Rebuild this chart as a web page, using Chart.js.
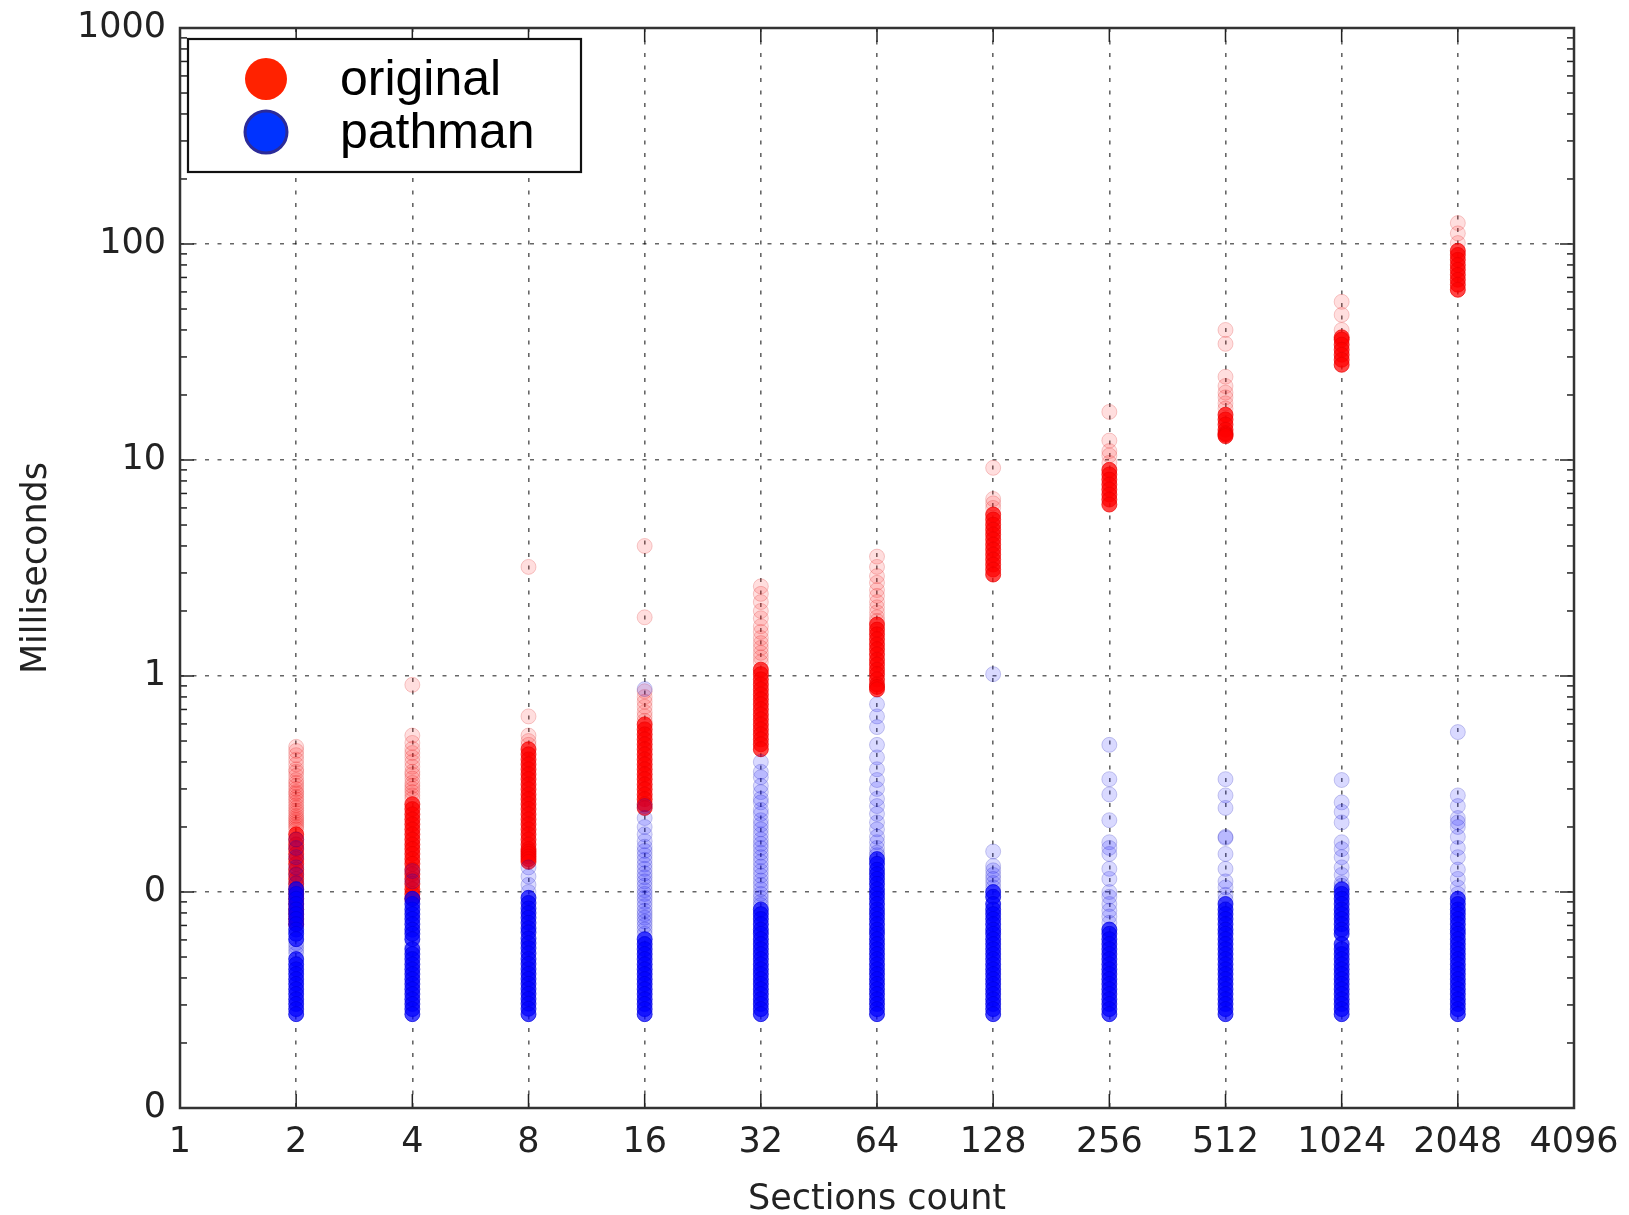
<!DOCTYPE html>
<html>
<head>
<meta charset="utf-8">
<script src="https://cdn.jsdelivr.net/npm/chart.js@4.4.0/dist/chart.umd.min.js"></script>
<style>
  html, body { margin: 0; padding: 0; background: #fff; }
  #wrap { width: 1629px; height: 1215px; }
</style>
</head>
<body>
<div id="wrap"><canvas id="timing-graph"></canvas></div>
<script>
const sections = [2, 4, 8, 16, 32, 64, 128, 256, 512, 1024, 2048];
const xTicks = [1, 2, 4, 8, 16, 32, 64, 128, 256, 512, 1024, 2048, 4096];
const yTicks = [0.01, 0.1, 1, 10, 100, 1000];
const yTickLabels = ['0', '0', '1', '10', '100', '1000'];
const seriesNames = ['original', 'pathman'];

// milliseconds, one list per sections count; "core" = the solid part of a column
const originalCore = [
    [0.185, 0.175, 0.166, 0.158, 0.150, 0.142, 0.135, 0.127, 0.121, 0.115, 0.109, 0.103, 0.098, 0.093, 0.088, 0.083, 0.079, 0.075, 0.071],
    [0.255, 0.242, 0.229, 0.217, 0.206, 0.195, 0.185, 0.175, 0.166, 0.158, 0.150, 0.142, 0.135, 0.127, 0.121, 0.115, 0.109, 0.103, 0.098, 0.093],
    [0.458, 0.434, 0.411, 0.390, 0.370, 0.351, 0.333, 0.315, 0.299, 0.283, 0.269, 0.255, 0.242, 0.229, 0.217, 0.206, 0.195, 0.185, 0.175, 0.166, 0.158, 0.154, 0.150, 0.146, 0.142, 0.138],
    [0.597, 0.566, 0.537, 0.509, 0.483, 0.458, 0.434, 0.411, 0.390, 0.370, 0.351, 0.333, 0.315, 0.299, 0.283, 0.269, 0.255, 0.245],
    [1.07, 1.02, 0.965, 0.914, 0.867, 0.822, 0.780, 0.740, 0.701, 0.664, 0.630, 0.597, 0.566, 0.537, 0.509, 0.483, 0.458],
    [1.73, 1.64, 1.56, 1.48, 1.40, 1.33, 1.26, 1.19, 1.13, 1.07, 1.02, 0.965, 0.914, 0.89, 0.867],
    [5.59, 5.30, 5.02, 4.76, 4.52, 4.29, 4.06, 3.85, 3.65, 3.46, 3.28, 3.11, 2.95],
    [9.0, 8.57, 8.12, 7.70, 7.30, 6.92, 6.56, 6.22],
    [16.2, 15.4, 14.6, 13.8, 13.3, 13.1, 12.9],
    [37.0, 36.1, 34.2, 32.4, 30.7, 29.1, 27.6],
    [93, 89, 84.5, 80, 76, 72, 68.3, 64.8, 61.4]
];
const originalSparse = [
    [0.47, 0.45, 0.43, 0.41, 0.39, 0.37, 0.36, 0.345, 0.33, 0.32, 0.31, 0.30, 0.29, 0.285, 0.275, 0.268, 0.26, 0.252, 0.245, 0.238, 0.232, 0.225, 0.22, 0.215, 0.21, 0.205, 0.20, 0.195],
    [0.91, 0.53, 0.49, 0.46, 0.44, 0.42, 0.40, 0.38, 0.36, 0.35, 0.335, 0.32, 0.31, 0.30, 0.29, 0.28, 0.27],
    [3.2, 0.65, 0.53, 0.50, 0.48],
    [4.0, 1.87, 0.85, 0.80, 0.76, 0.72, 0.68, 0.65, 0.62],
    [2.6, 2.4, 2.2, 2.0, 1.85, 1.7, 1.6, 1.5, 1.42, 1.35, 1.28, 1.22, 1.16],
    [3.57, 3.2, 2.9, 2.7, 2.5, 2.35, 2.2, 2.08, 1.97, 1.87, 1.8],
    [9.2, 6.6, 6.3, 6.0],
    [16.7, 12.3, 11.0, 10.5, 9.7],
    [40, 34.5, 24.3, 22, 20.5, 19.5, 18.3, 17.3],
    [54, 47, 40],
    [125, 112, 101]
];
const pathmanCore = [
    [0.103, 0.098, 0.093, 0.088, 0.083, 0.079, 0.075, 0.071, 0.067, 0.064, 0.0605, 0.0489, 0.0463, 0.0439, 0.0417, 0.0395, 0.0375, 0.0355, 0.0337, 0.0319, 0.0303, 0.0287, 0.0272],
    [0.093, 0.088, 0.083, 0.079, 0.075, 0.071, 0.067, 0.064, 0.0605, 0.0544, 0.0516, 0.0489, 0.0463, 0.0439, 0.0417, 0.0395, 0.0375, 0.0355, 0.0337, 0.0319, 0.0303, 0.0287, 0.0272],
    [0.094, 0.089, 0.084, 0.080, 0.076, 0.072, 0.068, 0.065, 0.061, 0.058, 0.055, 0.052, 0.049, 0.0465, 0.044, 0.0418, 0.0396, 0.0376, 0.0356, 0.0338, 0.032, 0.0304, 0.0288, 0.0272],
    [0.0605, 0.0574, 0.0544, 0.0516, 0.0489, 0.0463, 0.0439, 0.0417, 0.0395, 0.0375, 0.0355, 0.0337, 0.0319, 0.0303, 0.0287, 0.0272],
    [0.083, 0.079, 0.075, 0.071, 0.067, 0.064, 0.0605, 0.0574, 0.0544, 0.0516, 0.0489, 0.0463, 0.0439, 0.0417, 0.0395, 0.0375, 0.0355, 0.0337, 0.0319, 0.0303, 0.0287, 0.0272],
    [0.142, 0.135, 0.127, 0.121, 0.115, 0.109, 0.103, 0.098, 0.093, 0.088, 0.083, 0.079, 0.075, 0.071, 0.067, 0.064, 0.0605, 0.0574, 0.0544, 0.0516, 0.0489, 0.0463, 0.0439, 0.0417, 0.0395, 0.0375, 0.0355, 0.0337, 0.0319, 0.0303, 0.0287, 0.0272],
    [0.1, 0.095, 0.088, 0.083, 0.079, 0.075, 0.071, 0.067, 0.064, 0.0605, 0.0574, 0.0544, 0.0516, 0.0489, 0.0463, 0.0439, 0.0417, 0.0395, 0.0375, 0.0355, 0.0337, 0.0319, 0.0303, 0.0287, 0.0272],
    [0.067, 0.064, 0.0605, 0.0574, 0.0544, 0.0516, 0.0489, 0.0463, 0.0439, 0.0417, 0.0395, 0.0375, 0.0355, 0.0337, 0.0319, 0.0303, 0.0287, 0.0272],
    [0.088, 0.083, 0.079, 0.075, 0.071, 0.067, 0.064, 0.0605, 0.0574, 0.0544, 0.0516, 0.0489, 0.0463, 0.0439, 0.0417, 0.0395, 0.0375, 0.0355, 0.0337, 0.0319, 0.0303, 0.0287, 0.0272],
    [0.103, 0.098, 0.093, 0.088, 0.083, 0.079, 0.075, 0.071, 0.067, 0.064, 0.0574, 0.0544, 0.0516, 0.0489, 0.0463, 0.0439, 0.0417, 0.0395, 0.0375, 0.0355, 0.0337, 0.0319, 0.0303, 0.0287, 0.0272],
    [0.093, 0.088, 0.083, 0.079, 0.075, 0.071, 0.067, 0.064, 0.0605, 0.0574, 0.0544, 0.0516, 0.0489, 0.0463, 0.0439, 0.0417, 0.0395, 0.0375, 0.0355, 0.0337, 0.0319, 0.0303, 0.0287, 0.0272]
];
const pathmanSparse = [
    [0.175, 0.16, 0.145, 0.13, 0.12, 0.11, 0.058, 0.056, 0.054, 0.052],
    [0.125, 0.112, 0.057],
    [0.13, 0.118, 0.108, 0.10],
    [0.87, 0.25, 0.22, 0.20, 0.185, 0.172, 0.162, 0.155, 0.148, 0.141, 0.134, 0.128, 0.122, 0.117, 0.112, 0.107, 0.102, 0.098, 0.094, 0.09, 0.086, 0.082, 0.079, 0.076, 0.073, 0.070, 0.067, 0.064],
    [0.40, 0.36, 0.34, 0.31, 0.29, 0.27, 0.26, 0.24, 0.23, 0.215, 0.205, 0.195, 0.185, 0.175, 0.167, 0.16, 0.152, 0.145, 0.138, 0.131, 0.125, 0.119, 0.113, 0.108, 0.103, 0.098, 0.094, 0.09, 0.087],
    [0.74, 0.65, 0.58, 0.48, 0.42, 0.37, 0.33, 0.30, 0.27, 0.25, 0.23, 0.21, 0.195, 0.18, 0.17, 0.16, 0.152, 0.148],
    [1.02, 0.154, 0.132, 0.126, 0.12, 0.115, 0.11, 0.105],
    [0.48, 0.333, 0.283, 0.215, 0.17, 0.16, 0.15, 0.128, 0.115, 0.1, 0.095, 0.088, 0.082, 0.077, 0.072],
    [0.333, 0.28, 0.245, 0.18, 0.178, 0.15, 0.128, 0.112, 0.105, 0.097, 0.092],
    [0.33, 0.26, 0.235, 0.21, 0.17, 0.158, 0.145, 0.13, 0.12, 0.11, 0.107],
    [0.55, 0.28, 0.25, 0.22, 0.21, 0.2, 0.18, 0.16, 0.145, 0.127, 0.115, 0.105, 0.098]
];

const legendFill = ['#ff2200', '#0033ff'];
const legendEdge = [null, '#2b2b99'];

function pointsFor(lists) {
    return lists.flatMap((vals, i) => vals.map(v => ({x: sections[i], y: v})));
}

function line(ctx, x1, y1, x2, y2) {
    ctx.beginPath();
    ctx.moveTo(x1, y1);
    ctx.lineTo(x2, y2);
    ctx.stroke();
}

// inward ticks, frame and the legend box, drawn on top like matplotlib does
const frameAndLegend = {
    id: 'frameAndLegend',
    afterDraw(chart) {
        const {ctx, chartArea: {left, right, top, bottom}, scales: {x, y}} = chart;
        ctx.save();
        ctx.strokeStyle = '#222';
        ctx.lineWidth = 1.5;
        for (const d of [0.01, 0.1, 1, 10, 100]) {
            for (let k = 2; k < 10; k++) {
                const py = y.getPixelForValue(d * k);
                line(ctx, left, py, left + 7, py);
                line(ctx, right, py, right - 7, py);
            }
        }
        yTicks.forEach(v => {
            const py = y.getPixelForValue(v);
            line(ctx, left, py, left + 14, py);
            line(ctx, right, py, right - 14, py);
        });
        xTicks.forEach(v => {
            const px = x.getPixelForValue(v);
            line(ctx, px, bottom, px, bottom - 14);
            line(ctx, px, top, px, top + 14);
        });
        ctx.lineWidth = 2.5;
        ctx.strokeStyle = '#333';
        ctx.strokeRect(left, top, right - left, bottom - top);

        const lx = left + 8, ly = top + 11;
        ctx.fillStyle = '#fff';
        ctx.fillRect(lx, ly, 393, 133);
        ctx.lineWidth = 2.2;
        ctx.strokeStyle = '#111';
        ctx.strokeRect(lx, ly, 393, 133);
        seriesNames.forEach((name, i) => {
            const cy = ly + 40 + i * 53;
            ctx.beginPath();
            ctx.arc(lx + 78, cy, 21, 0, 2 * Math.PI);
            ctx.fillStyle = legendFill[i];
            ctx.fill();
            if (legendEdge[i]) {
                ctx.lineWidth = 3;
                ctx.strokeStyle = legendEdge[i];
                ctx.stroke();
            }
            ctx.fillStyle = '#000';
            ctx.font = '50px "Liberation Sans", Arial, sans-serif';
            ctx.textBaseline = 'alphabetic';
            ctx.fillText(name, lx + 152, cy + 16);
        });
        ctx.restore();
    }
};

Chart.defaults.font.family = '"DejaVu Sans", sans-serif';
Chart.defaults.font.size = 35;
Chart.defaults.color = '#222';

const ctx = document.getElementById('timing-graph').getContext('2d');

new Chart(ctx, {
    type: 'scatter',
    data: {
        datasets: [
            {
                label: seriesNames[0],
                data: pointsFor(originalCore),
                backgroundColor: 'rgba(255, 0, 0, 0.72)',
                borderColor: 'rgba(235, 0, 0, 0.72)',
                order: 2,
            },
            {
                label: seriesNames[0],
                data: pointsFor(originalSparse),
                backgroundColor: 'rgba(255, 0, 0, 0.13)',
                borderColor: 'rgba(210, 0, 0, 0.2)',
                order: 3,
            },
            {
                label: seriesNames[1],
                data: pointsFor(pathmanCore),
                backgroundColor: 'rgba(0, 0, 255, 0.72)',
                borderColor: 'rgba(0, 0, 220, 0.72)',
                order: 0,
            },
            {
                label: seriesNames[1],
                data: pointsFor(pathmanSparse),
                backgroundColor: 'rgba(0, 0, 255, 0.15)',
                borderColor: 'rgba(0, 0, 170, 0.2)',
                order: 1,
            }
        ]
    },
    options: {
        responsive: true,
        maintainAspectRatio: false,
        animation: false,
        events: [],
        elements: {
            point: {radius: 7.5, hoverRadius: 7.5, borderWidth: 1}
        },
        layout: {padding: {top: 28, right: 55, bottom: 0, left: 0}},
        plugins: {
            legend: {display: false},
            tooltip: {enabled: false}
        },
        scales: {
            x: {
                type: 'logarithmic',
                min: 1,
                max: 4096,
                afterBuildTicks: scale => { scale.ticks = xTicks.map(v => ({value: v})); },
                afterFit: scale => {
                    scale.height = 107;
                    scale.paddingLeft = 0;
                    scale.paddingRight = 0;
                },
                ticks: {
                    autoSkip: false,
                    maxRotation: 0,
                    padding: 14,
                    callback: (value, index) => String(xTicks[index])
                },
                grid: {color: 'rgba(0, 0, 0, 0.6)', lineWidth: 1.6, drawTicks: false},
                border: {display: false, dash: [4, 8.5]},
                title: {display: true, text: 'Sections count', padding: {top: 0, bottom: 0}, font: {size: 35, lineHeight: 0.86}}
            },
            y: {
                type: 'logarithmic',
                min: 0.01,
                max: 1000,
                afterBuildTicks: scale => { scale.ticks = yTicks.map(v => ({value: v})); },
                afterFit: scale => { scale.width = 180; },
                ticks: {
                    padding: 14,
                    font: {lineHeight: 0.6},
                    callback: (value, index) => yTickLabels[index]
                },
                grid: {color: 'rgba(0, 0, 0, 0.6)', lineWidth: 1.6, drawTicks: false},
                border: {display: false, dash: [4, 8.5]},
                title: {display: true, text: 'Milliseconds', padding: {top: 16, bottom: 0}, font: {size: 35, lineHeight: 1.2}}
            }
        }
    },
    plugins: [frameAndLegend]
});
</script>
</body>
</html>
